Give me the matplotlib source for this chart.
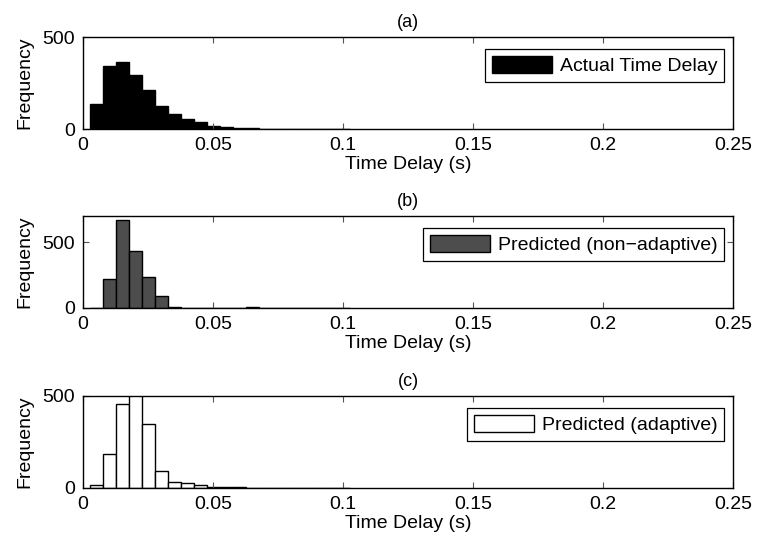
import matplotlib
matplotlib.use("Agg")
import matplotlib.pyplot as plt
from matplotlib.ticker import FuncFormatter

plt.rcParams['font.family'] = ['Liberation Sans', 'DejaVu Sans']
plt.rcParams['font.size'] = 14

# bin centres of the histograms (s)
bin_centers = [0.005, 0.01, 0.015, 0.02, 0.025, 0.03, 0.035, 0.04, 0.045, 0.05,
               0.055, 0.06, 0.065, 0.07, 0.075, 0.08, 0.085, 0.09, 0.095, 0.1]
bin_width = 0.005

counts_actual = [135, 341, 363, 296, 211, 125, 80, 54, 36, 18,
                 10, 6, 3, 1, 1, 0, 0, 0, 0, 0]
counts_nonadaptive = [0, 221, 673, 434, 236, 91, 8, 3, 2, 2,
                      2, 2, 4, 1, 0, 0, 0, 0, 0, 0]
counts_adaptive = [15, 185, 456, 560, 350, 92, 35, 25, 15, 8,
                   5, 3, 2, 1, 1, 0, 0, 0, 0, 0]

panels = [
    ("(a)", counts_actual, "black", "Actual Time Delay", 500),
    ("(b)", counts_nonadaptive, "#4d4d4d", "Predicted (non\u2212adaptive)", 700),
    ("(c)", counts_adaptive, "white", "Predicted (adaptive)", 500),
]

x_ticks = [0, 0.05, 0.1, 0.15, 0.2, 0.25]
y_ticks = [0, 500]

fig = plt.figure(figsize=(7.57, 5.45), dpi=100)
W, H = 757, 545
left, right = 83, 733
tops = [37, 216, 396]
ax_h = 92

for (title, counts, color, label, ymax), top in zip(panels, tops):
    ax = fig.add_axes([left / W, 1 - (top + ax_h) / H, (right - left) / W, ax_h / H])
    ax.bar(bin_centers, counts, width=bin_width, color=color, edgecolor="black",
           linewidth=1, label=label)
    ax.set_xlim(0, 0.25)
    ax.set_ylim(0, ymax)
    ax.set_xticks(x_ticks)
    ax.set_yticks(y_ticks)
    ax.xaxis.set_major_formatter(FuncFormatter(lambda v, p: f"{v:g}"))
    ax.tick_params(direction="in", top=True, right=True, length=4, width=0.8,
                   color="#555555", labelsize=14, pad=6)
    for sp in ax.spines.values():
        sp.set_linewidth(1.0)
    ax.set_title(title, fontsize=13, pad=7)
    ax.set_xlabel("Time Delay (s)", fontsize=14, labelpad=1)
    ax.set_ylabel("Frequency", fontsize=14, labelpad=6)
    leg = ax.legend(loc="upper right", bbox_to_anchor=(1 - 9 / 650, 1 - 12 / 92),
                    borderaxespad=0, fancybox=False, framealpha=1, edgecolor="black",
                    handlelength=3.1, handleheight=0.95, handletextpad=0.4,
                    borderpad=0.35, fontsize=14)
    leg.get_frame().set_linewidth(0.9)

fig.savefig("out.png", dpi=100)
